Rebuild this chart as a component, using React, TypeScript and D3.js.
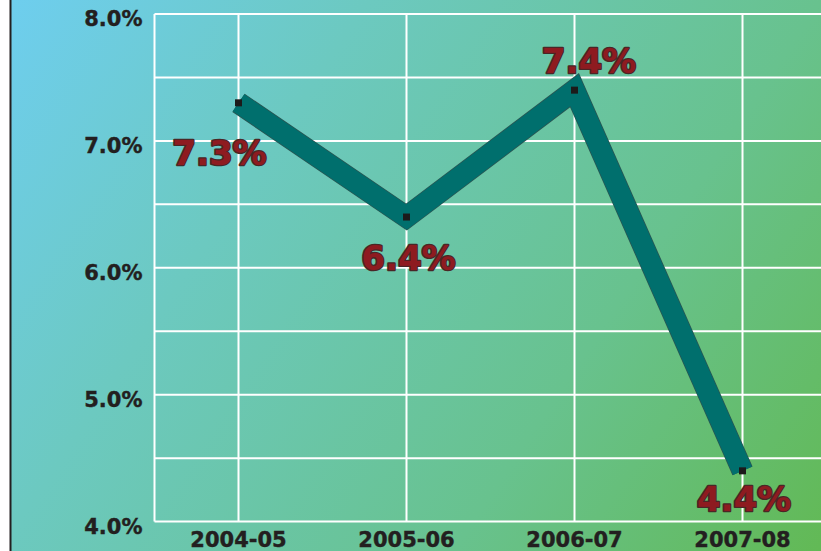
import React from "react";
import * as d3 from "d3";

const categories = ["2004-05", "2005-06", "2006-07", "2007-08"];
const values = [7.3, 6.4, 7.4, 4.4];
const yTicks = [4.0, 5.0, 6.0, 7.0, 8.0];
const yGrid = [4.0, 4.5, 5.0, 5.5, 6.0, 6.5, 7.0, 7.5, 8.0];
// label placement offsets (dx, dy) relative to each point
const labelDx = [-19, 2, 14.5, 1.5];
const labelDy = [62, 52.5, -17, 40];

const W = 821;
const H = 551;
const FONT = "'DejaVu Sans', sans-serif";

export default function App() {
  const x = d3.scalePoint<string>().domain(categories).range([154.5, 826.5]).padding(0.5);
  const y = d3.scaleLinear().domain([4, 8]).range([521.6, 14]);
  const pts: [number, number][] = values.map((v, i) => [x(categories[i]) as number, y(v)]);
  const line = d3.line()(pts) as string;
  const left = 154.5;

  return (
    <svg
      width={W}
      height={H}
      style={{ position: "absolute", left: 0, top: 0, display: "block" }}
    >
      <defs>
        <linearGradient id="bg" gradientUnits="userSpaceOnUse" x1={0} y1={0} x2={W} y2={H}>
          <stop offset="0" stopColor="#6ecef0" />
          <stop offset="0.31" stopColor="#6cc9c0" />
          <stop offset="0.69" stopColor="#68c28e" />
          <stop offset="1" stopColor="#62b955" />
        </linearGradient>
      </defs>
      <rect x={0} y={0} width={W} height={H} fill="#ffffff" />
      <rect x={11} y={0} width={W - 11} height={H} fill="url(#bg)" />
      <line x1={10.5} x2={10.5} y1={0} y2={H} stroke="#231f20" strokeWidth={2} />

      {/* grid */}
      {yGrid.map((g) => (
        <line key={"h" + g} x1={left} x2={W} y1={y(g)} y2={y(g)} stroke="#ffffff" strokeWidth={2} />
      ))}
      <line x1={left} x2={left} y1={y(8)} y2={y(4)} stroke="#ffffff" strokeWidth={2} />
      {categories.map((c) => (
        <line key={"v" + c} x1={x(c)} x2={x(c)} y1={y(8)} y2={y(4)} stroke="#ffffff" strokeWidth={2} />
      ))}

      {/* axes labels */}
      {yTicks.map((t) => (
        <text
          key={"yt" + t}
          x={142.5}
          y={y(t) + 12}
          textAnchor="end"
          fontFamily={FONT}
          fontWeight="bold"
          fontSize={21}
          fill="#231f20"
          stroke="#231f20"
          strokeWidth={0.4}
        >
          {t.toFixed(1) + "%"}
        </text>
      ))}
      {categories.map((c) => (
        <text
          key={"xt" + c}
          x={x(c)}
          y={547}
          textAnchor="middle"
          fontFamily={FONT}
          fontWeight="bold"
          fontSize={21}
          fill="#231f20"
          stroke="#231f20"
          strokeWidth={0.4}
        >
          {c}
        </text>
      ))}

      {/* line */}
      <path d={line} fill="none" stroke="#2a5552" strokeWidth={22} strokeLinejoin="miter" strokeLinecap="butt" />
      <path d={line} fill="none" stroke="#006f6d" strokeWidth={20.5} strokeLinejoin="miter" strokeLinecap="butt" />

      {/* markers */}
      {pts.map(([px, py], i) => (
        <rect key={"m" + i} x={px - 3.5} y={py - 3.5} width={7} height={7} fill="#1c1a1a" />
      ))}

      {/* data labels */}
      {pts.map(([px, py], i) => (
        <text
          key={"l" + i}
          x={px + labelDx[i]}
          y={py + labelDy[i]}
          textAnchor="middle"
          fontFamily={FONT}
          fontWeight="bold"
          fontSize={34}
          fill="#8e1b20"
          stroke="#4a2626"
          strokeWidth={2.6}
          strokeLinejoin="round"
          paintOrder="stroke"
        >
          {values[i].toFixed(1) + "%"}
        </text>
      ))}
    </svg>
  );
}
